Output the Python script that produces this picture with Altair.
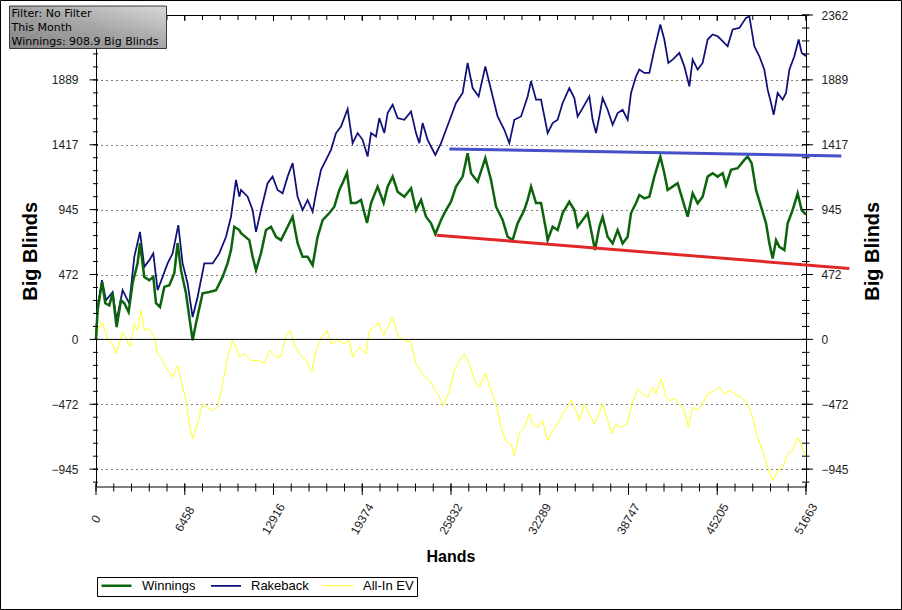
import altair as alt
import pandas as pd

# ---------------- data ----------------
series_names = ["Winnings", "Rakeback", "All-In EV"]
series_colors = ["#0c640c", "#10107a", "#ffff20"]
series_widths = [2.5, 1, 1]

win_hands = [0,116,437,677,968,1208,1499,1819,2059,2372,
             2663,3027,3202,3515,3879,4170,4366,4657,4970,5334,
             5698,5938,6185,6549,6789,7030,7277,7757,8245,8732,
             9213,9577,9824,10064,10428,10552,11156,11396,11643,12007,
             12371,12735,13099,13462,13943,14307,14670,15034,15398,15762,
             16126,16490,16977,17341,17705,17945,18265,18556,18920,19284,
             19721,20012,20492,20929,21220,21584,21948,22435,22923,23286,
             23650,24014,24378,24691,25106,25470,25833,26197,26678,27041,
             27289,27769,28329,28744,29108,29588,29952,30316,30680,31167,
             31408,31655,32019,32383,32747,32863,33227,33591,33955,34442,
             34806,35046,35410,35774,36021,36312,36625,36865,37229,37593,
             37957,38321,38685,38932,39296,39536,39900,40264,40627,41064,
             41355,41595,41959,42323,42687,43051,43415,43778,44142,44506,
             44870,45234,45598,45845,46209,46689,47177,47417,47708,48028,
             48392,48756,48996,49236,49484,49724,50088,50328,50692,51055,
             51347,51663]
win_bb = [0,212,418,263,248,336,90,285,263,199,
          409,555,701,455,431,455,263,236,382,394,
          482,701,504,336,163,-7,117,336,345,358,
          455,555,650,820,796,774,723,601,504,628,
          796,820,747,723,820,893,701,601,601,540,
          747,869,920,966,1088,1139,1212,993,993,1015,
          847,993,1112,993,1112,1185,1075,1039,1100,942,
          1015,893,845,767,869,942,1002,1112,1185,1356,
          1210,1148,1319,1161,966,869,747,723,845,942,
          1015,1112,993,993,796,723,820,796,920,1002,
          942,820,869,918,796,650,820,893,747,699,
          796,699,747,920,993,1051,1027,1039,1185,1331,
          1210,1088,1112,1137,1015,893,1064,991,1039,1185,
          1210,1185,1210,1124,1234,1246,1307,1331,1283,1088,
          966,845,699,589,723,674,650,845,942,1064,
          942,908.9]

rake_hands = [0,116,437,728,1208,1499,1936,2423,2787,3202,
              3515,3879,4170,4483,4847,5210,5574,5989,6302,6666,
              7030,7393,7881,8485,8973,9460,9824,10188,10428,10552,
              11032,11396,11643,12007,12487,12851,13215,13579,13943,14307,
              14670,15034,15398,15762,16009,16373,16737,17101,17465,17829,
              18309,18673,19037,19401,19764,20012,20376,20616,20980,21220,
              21584,21948,22435,22923,23286,23527,23767,24131,24691,25106,
              25470,25833,26197,26678,27041,27405,27842,28329,28744,29224,
              29712,30076,30440,30927,31408,31655,32019,32383,32674,32863,
              33227,33591,33955,34442,34806,35046,35410,35898,36138,36385,
              36625,36865,37229,37593,37957,38321,38685,38932,39296,39536,
              39900,40264,40627,41064,41355,41646,41959,42447,42811,43174,
              43415,43778,44142,44506,44870,45234,45598,45962,46326,46813,
              47301,47541,47905,48269,48632,48873,49120,49309,49600,49964,
              50211,50451,50815,51129,51347,51663]
rake_bb = [0,236,431,285,345,139,358,261,601,783,
           528,577,626,358,455,553,626,832,553,407,
           163,309,553,553,626,747,893,1161,1039,1088,
           1039,942,783,942,1137,1185,1088,1064,1185,1283,
           1039,942,1015,929,1064,1234,1307,1380,1502,1550,
           1677,1429,1502,1453,1331,1502,1477,1611,1502,1648,
           1708,1611,1599,1660,1502,1429,1575,1453,1343,1429,
           1526,1623,1721,1794,2013,1830,1769,1988,1818,1623,
           1526,1429,1599,1623,1769,1879,1745,1745,1599,1502,
           1575,1599,1721,1830,1757,1623,1684,1769,1599,1502,
           1623,1757,1672,1562,1648,1672,1599,1794,1915,1964,
           1940,1940,2110,2293,2183,2013,2037,2086,1988,1842,
           2037,1964,2013,2183,2220,2207,2171,2134,2256,2268,
           2341,2353,2134,2061,1964,1818,1721,1635,1794,1745,
           1794,1964,2061,2183,2086,2061]

ev_hands = [0,116,480,844,1208,1499,1936,2183,2474,2787,
            3027,3275,3515,3879,4242,4483,4847,5210,5574,5938,
            6302,6549,6789,7030,7393,7757,8121,8485,8849,9213,
            9577,9940,10188,10428,10792,11279,11883,12247,12611,13099,
            13462,13826,14139,14430,14794,15282,15689,16009,16490,16810,
            17101,17581,18069,18433,18673,19161,19648,19888,20252,20543,
            20929,21584,21948,22435,22923,23286,23767,24254,24858,25273,
            25710,26074,26437,26801,27165,27529,27893,28329,28744,29108,
            29472,29836,30200,30440,30804,31167,31531,31771,32135,32499,
            32863,33227,33591,33955,34318,34566,34930,35170,35534,35898,
            36262,36502,36865,37229,37520,37840,38204,38641,38932,39412,
            39776,40140,40504,40751,41115,41479,41719,42083,42447,42811,
            43102,43415,43778,44142,44506,44994,45358,45721,46085,46449,
            46937,47417,47781,48145,48509,48873,49236,49600,49964,50328,
            50692,51055,51303,51663]
ev_bb = [0,66,126,-7,-31,-104,53,5,-56,115,
         66,212,66,78,17,-104,-153,-226,-275,-190,
         -348,-445,-615,-725,-615,-469,-494,-518,-494,-323,
         -129,-7,-56,-129,-104,-153,-153,-177,-80,-129,
         -129,29,66,-31,-104,-153,-239,-80,29,66,
         -31,-7,-31,-7,-129,-56,-104,66,90,126,
         29,163,29,-7,-20,-177,-250,-299,-396,-482,
         -372,-226,-153,-104,-177,-299,-348,-250,-372,-469,
         -640,-737,-762,-847,-688,-640,-542,-615,-640,-591,
         -737,-664,-615,-542,-494,-445,-518,-591,-469,-542,
         -615,-567,-469,-591,-688,-615,-640,-615,-494,-360,
         -396,-421,-348,-396,-287,-421,-445,-433,-469,-518,
         -640,-494,-518,-469,-396,-372,-348,-396,-372,-396,
         -421,-469,-567,-713,-810,-932,-1029,-956,-932,-834,
         -810,-713,-761,-859]

# trend lines drawn on the chart
resist_hands = [25709, 54234]
resist_bb = [1387, 1336]
support_hands = [24786, 54818]
support_bb = [759, 516]

# axes
x_ticks = [0, 6457.875, 12915.75, 19373.625, 25831.5, 32289.375, 38747.25, 45205.125, 51663]
x_labels = ["0", "6458", "12916", "19374", "25832", "32289", "38747", "45205", "51663"]
y_ticks = [-944.7, -472.35, 0, 472.35, 944.7, 1417.05, 1889.4, 2361.75]
y_ticks_left = y_ticks[:-1]  # the top label on the left is hidden by the info box
x_domain = [0, 51663]
y_domain = [-1071, 2361.75]
x_minor = [i * 51663 / 40 for i in range(41)]
y_minor = [k * 94.47 for k in range(-11, 26)]

x_title = "Hands"
y_title = "Big Blinds"
info_lines = ["Filter: No Filter", "This Month", "Winnings: 908.9 Big Blinds"]

# ---------------- layout ----------------
W, H = 710, 471.5
PAD = {"left": 96, "top": 15, "right": 96, "bottom": 123.5}
FONT = "Liberation Sans"

xs = alt.Scale(domain=x_domain, nice=False, zero=False)
ys = alt.Scale(domain=y_domain, nice=False, zero=False)

frames = []
for name, h, v in [("All-In EV", ev_hands, ev_bb), ("Rakeback", rake_hands, rake_bb),
                   ("Winnings", win_hands, win_bb)]:
    frames.append(pd.DataFrame({"hands": h, "bb": v, "series": name}))
lines_df = pd.concat(frames, ignore_index=True)
lines_df["order"] = range(len(lines_df))

legend = alt.Legend(orient="none", legendX=1, legendY=562, direction="horizontal", title=None,
                    symbolType="stroke", symbolSize=900, clipHeight=11, labelFont=FONT,
                    labelFontSize=13, labelColor="black", labelOffset=9, columnPadding=14,
                    padding=3, strokeColor="black", fillColor="white")

x_axis = alt.Axis(values=x_ticks, labels=False, ticks=False, domain=False, title=None,
                  grid=True, gridDash=[1, 4], gridColor="black", gridOpacity=1)

y_axis_left = alt.Axis(values=y_ticks_left, format=".0f", orient="left", ticks=False, domain=False,
                       grid=True, gridDash=[1, 4], gridColor="black", gridOpacity=1,
                       labelPadding=18, labelFont=FONT, labelFontSize=12, labelColor="#222",
                       labelOverlap=False, labelFlush=False,
                       title=y_title, titleFont=FONT, titleFontSize=20, titleFontWeight="bold",
                       titleColor="black", titleAngle=270, titleX=-66, titleY=235.75,
                       titleBaseline="middle", titleAlign="center")

y_axis_right = alt.Axis(values=y_ticks, format=".0f", orient="right", ticks=False, domain=False,
                        grid=False, labelPadding=15, labelFont=FONT, labelFontSize=12,
                        labelColor="#222", labelOverlap=False, labelFlush=False,
                        title=y_title, titleFont=FONT, titleFontSize=20, titleFontWeight="bold",
                        titleColor="black", titleAngle=270, titleX=66, titleY=235.75,
                        titleBaseline="middle", titleAlign="center")

series_layer = alt.Chart(lines_df).mark_line(interpolate="linear").encode(
    x=alt.X("hands:Q", scale=xs, axis=x_axis),
    y=alt.Y("bb:Q", scale=ys, axis=y_axis_left),
    color=alt.Color("series:N", scale=alt.Scale(domain=series_names, range=series_colors), legend=legend),
    strokeWidth=alt.StrokeWidth("series:N", scale=alt.Scale(domain=series_names, range=series_widths),
                                legend=legend),
    order="order:Q",
)

trend_df = pd.concat([
    pd.DataFrame({"hands": resist_hands, "bb": resist_bb, "line": "resistance"}),
    pd.DataFrame({"hands": support_hands, "bb": support_bb, "line": "support"}),
], ignore_index=True)

resist_layer = alt.Chart(trend_df[trend_df.line == "resistance"]).mark_line(
    color="#4650c8", strokeWidth=3).encode(
    x=alt.X("hands:Q", scale=xs, axis=None),
    y=alt.Y("bb:Q", scale=ys, axis=y_axis_right),
)
support_layer = alt.Chart(trend_df[trend_df.line == "support"]).mark_line(
    color="#e02828", strokeWidth=3).encode(
    x=alt.X("hands:Q", scale=xs, axis=None),
    y=alt.Y("bb:Q", scale=ys, axis=None),
)

zero_layer = alt.Chart(pd.DataFrame({"bb": [0]})).mark_rule(color="black", strokeWidth=1).encode(
    y=alt.Y("bb:Q", scale=ys, axis=None), x=alt.value(0), x2=alt.value(W))

xmaj = pd.DataFrame({"hands": x_ticks, "label": x_labels})
xmin = pd.DataFrame({"hands": x_minor})
ymaj = pd.DataFrame({"bb": y_ticks})
ymin = pd.DataFrame({"bb": y_minor})

def xtick(df, y0, y1):
    return alt.Chart(df).mark_rule(color="black", strokeWidth=1).encode(
        x=alt.X("hands:Q", scale=xs, axis=None), y=alt.value(y0), y2=alt.value(y1))

def ytick(df, x0, x1):
    return alt.Chart(df).mark_rule(color="black", strokeWidth=1).encode(
        y=alt.Y("bb:Q", scale=ys, axis=None), x=alt.value(x0), x2=alt.value(x1))

tick_layers = [
    xtick(xmin, H - 3, H + 5), xtick(xmaj, H - 3, H + 8.5),
    xtick(xmin, 0, 5), xtick(xmaj, 0, 6),
    ytick(ymin, -3, 2), ytick(ymaj, -6.5, 2),
    ytick(ymin, W - 4, W + 3.5), ytick(ymaj, W - 4, W + 7),
]

xlabel_layer = alt.Chart(xmaj).mark_text(
    angle=300, align="center", baseline="middle", font=FONT, fontSize=12, color="#222").encode(
    x=alt.X("hands:Q", scale=xs, axis=None), y=alt.value(H + 32.5), text="label:N")

xtitle_layer = alt.Chart(pd.DataFrame({"t": [x_title]})).mark_text(
    align="center", baseline="middle", font=FONT, fontSize=16, fontWeight="bold", color="black").encode(
    x=alt.value(W / 2), y=alt.value(H + 70.5), text="t:N")

box_layer = alt.Chart(pd.DataFrame({"a": [0]})).mark_rect(
    fill=alt.Gradient(gradient="linear", x1=1, y1=0, x2=0, y2=1,
                      stops=[alt.GradientStop(color="#d8d8d8", offset=0),
                             alt.GradientStop(color="#a4a4a4", offset=0.5),
                             alt.GradientStop(color="#858585", offset=1)]),
    stroke="#3a3a3a", strokeWidth=1).encode(
    x=alt.value(-86.5), x2=alt.value(70.5), y=alt.value(-9), y2=alt.value(33.5))

text_layers = []
for i, line in enumerate(info_lines):
    text_layers.append(
        alt.Chart(pd.DataFrame({"t": [line]})).mark_text(
            align="left", baseline="alphabetic", font="DejaVu Sans", fontSize=11, color="black").encode(
            text="t:N", x=alt.value(-84.5), y=alt.value(1.8 + 14 * i)))

border_layer = alt.Chart(pd.DataFrame({"a": [0]})).mark_rect(
    fill="white", fillOpacity=0, stroke="black", strokeWidth=1).encode(
    x=alt.value(-95.5), x2=alt.value(805.5), y=alt.value(-14.5), y2=alt.value(594.5))

chart = alt.layer(
    series_layer, resist_layer, support_layer, zero_layer, *tick_layers,
    xlabel_layer, xtitle_layer, box_layer, *text_layers, border_layer,
).resolve_scale(y="independent").properties(
    width=W, height=H, autosize=alt.AutoSizeParams(type="none"), padding=PAD,
    background="white",
).configure_view(stroke="black", strokeWidth=1)

chart.save("out.html", embed_options={"renderer": "svg", "actions": False})
